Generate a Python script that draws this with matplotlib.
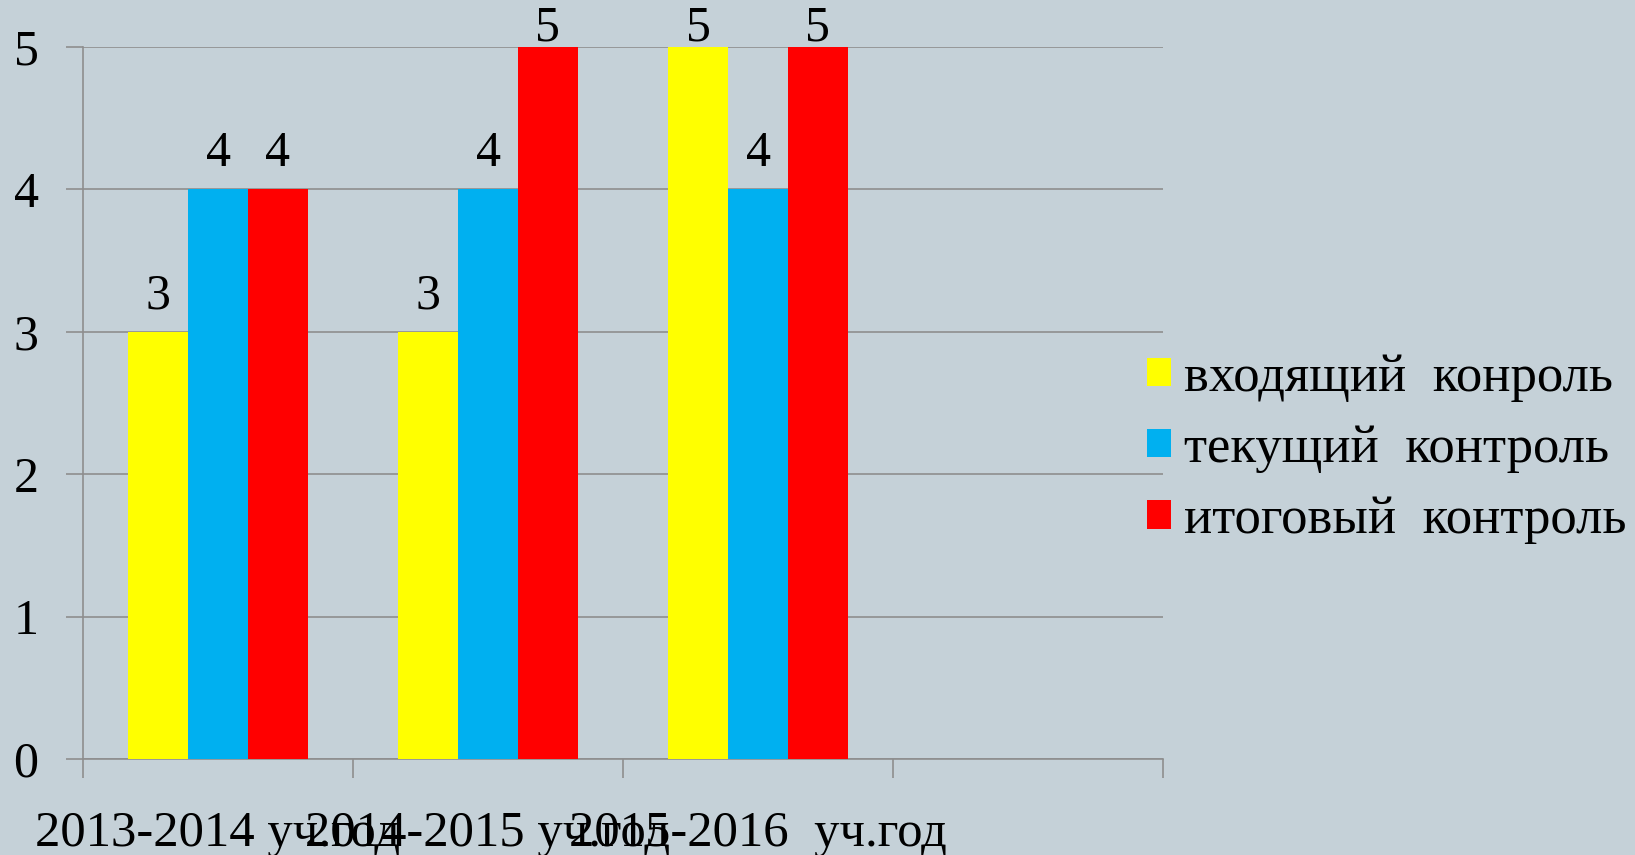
import matplotlib
matplotlib.use("Agg")
import matplotlib.pyplot as plt
import numpy as np

categories = ["2013-2014 уч.год", "2014-2015 уч.год", "2015-2016  уч.год"]
series_names = ["входящий  конроль", "текущий  контроль", "итоговый  контроль"]
incoming = [3, 3, 5]
current = [4, 4, 4]
final = [4, 5, 5]
series_values = [incoming, current, final]
colors = ["#FFFF00", "#00B0F0", "#FF0000"]
yticks = [0, 1, 2, 3, 4, 5]

BG = "#C5D1D8"
GRID = "#8E8E8E"
FONT = ["Liberation Serif", "DejaVu Serif"]
plt.rcParams["font.family"] = FONT

fig = plt.figure(figsize=(16.35, 8.55), dpi=100, facecolor=BG)
ax = fig.add_axes([83/1635, 1-759/855, (1163-83)/1635, (759-47)/855])
ax.set_facecolor(BG)

n_slots = 4
ymax = 5
x = np.arange(len(categories))
bw = 0.222
for i, (name, vals, c) in enumerate(zip(series_names, series_values, colors)):
    pos = x + (i - 1) * bw
    bars = ax.bar(pos, vals, width=bw, color=c, label=name, zorder=3)
    for b, v in zip(bars, vals):
        # labels at the top of the scale are pushed down to stay inside the chart
        off = -3 if v >= ymax else 9
        ax.annotate(str(v), (b.get_x() + b.get_width()/2, v), xytext=(0, off),
                    textcoords="offset points", ha="center", va="bottom",
                    fontsize=36, color="black", zorder=4, annotation_clip=False)

ax.set_xlim(-0.5, n_slots - 0.5)
ax.set_ylim(0, ymax)
ax.set_yticks(yticks)
ax.set_yticklabels([str(t) for t in yticks], fontsize=36)
ax.yaxis.grid(True, color=GRID, linewidth=1.2, zorder=0)
ax.tick_params(axis="y", length=12, width=1.2, color=GRID, pad=20)

ax.set_xticks(np.arange(n_slots + 1) - 0.5)
ax.set_xticklabels([])
ax.set_xticks(x, minor=True)
ax.set_xticklabels(categories, minor=True, fontsize=36.5)
ax.tick_params(axis="x", which="major", length=14, width=1.2, color=GRID)
ax.tick_params(axis="x", which="minor", length=0, pad=37)

for s in ["top", "right"]:
    ax.spines[s].set_visible(False)
for s in ["left", "bottom"]:
    ax.spines[s].set_color(GRID)
    ax.spines[s].set_linewidth(1.2)

leg = fig.legend(loc="center left", bbox_to_anchor=(1126/1635, 1-449/855),
                 frameon=False, fontsize=38, handlelength=0.45, handleheight=0.45,
                 handletextpad=0.25, labelspacing=0.44, borderaxespad=0)

fig.savefig("out.png", dpi=100, facecolor=BG)
